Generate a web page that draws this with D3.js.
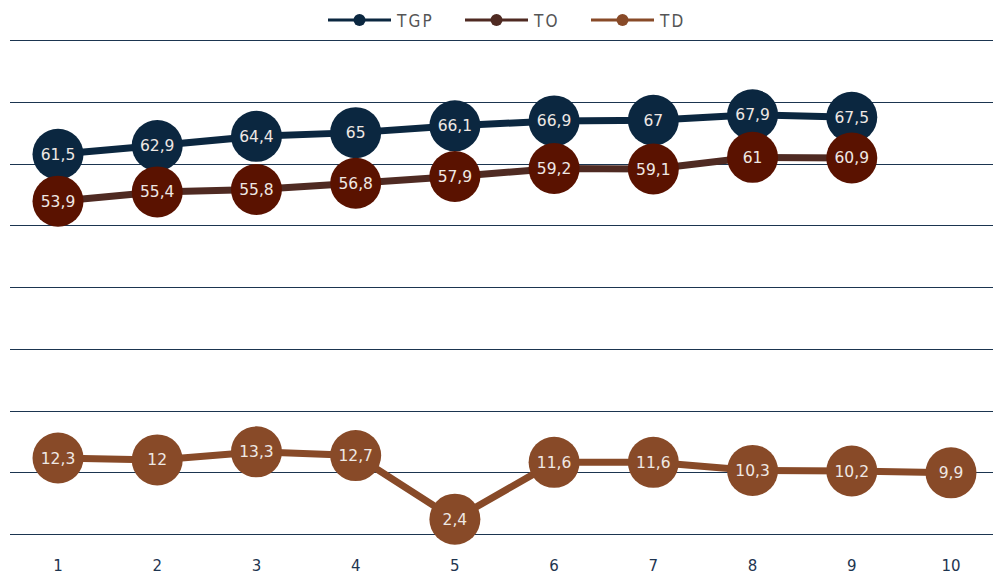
<!DOCTYPE html>
<html><head><meta charset="utf-8">
<script src="https://cdn.jsdelivr.net/npm/d3@7"></script>
<style>body{margin:0;background:#fff}svg{display:block}</style>
</head><body>
<svg id="c" width="994" height="575"></svg>
<script>
const categories = ["1","2","3","4","5","6","7","8","9","10"];
const seriesNames = ["TGP","TO","TD"];
const tgp = [61.5,62.9,64.4,65,66.1,66.9,67,67.9,67.5,null];
const to  = [53.9,55.4,55.8,56.8,57.9,59.2,59.1,61,60.9,null];
const td  = [12.3,12,13.3,12.7,2.4,11.6,11.6,10.3,10.2,9.9];
const yTicks = [0,10,20,30,40,50,60,70,80];

const lineColors = ["#0b2740","#4f2a22","#884a28"];
const dotColors  = ["#0b2740","#5a1200","#884a28"];
const series = [tgp,to,td];

const svg = d3.select("#c");
const x = d3.scaleBand().domain(categories).range([8.4,1000.6]);
const y = d3.scaleLinear().domain([0,80]).range([534,40]);

svg.append("g").selectAll("line").data(yTicks).join("line")
  .attr("x1",10).attr("x2",993)
  .attr("y1",d=>Math.round(y(d))+0.5).attr("y2",d=>Math.round(y(d))+0.5)
  .attr("stroke","#1b3550").attr("stroke-width",1);

svg.append("g").selectAll("text").data(categories).join("text")
  .attr("x",d=>x(d)+x.bandwidth()/2).attr("y",571)
  .attr("text-anchor","middle").attr("font-family","DejaVu Sans")
  .attr("font-size",15).attr("fill","#1e3550").text(d=>d);

const fmt = v => String(v).replace(".",",");
const cx = i => x(categories[i]) + x.bandwidth()/2;

series.forEach((s,k)=>{
  const pts = s.map((v,i)=>({v,i})).filter(d=>d.v!=null);
  const line = d3.line().x(d=>cx(d.i)).y(d=>y(d.v));
  svg.append("path").datum(pts).attr("d",line)
    .attr("fill","none").attr("stroke",lineColors[k]).attr("stroke-width",7);
});
series.forEach((s,k)=>{
  const pts = s.map((v,i)=>({v,i})).filter(d=>d.v!=null);
  const g = svg.append("g");
  g.selectAll("circle").data(pts).join("circle")
    .attr("cx",d=>cx(d.i)).attr("cy",d=>y(d.v)).attr("r",25.5)
    .attr("fill",dotColors[k]);
  g.selectAll("text").data(pts).join("text")
    .attr("x",d=>cx(d.i)).attr("y",d=>y(d.v)+5.5)
    .attr("text-anchor","middle").attr("font-family","DejaVu Sans")
    .attr("font-size",15.5).attr("fill","#efe8e4").text(d=>fmt(d.v));
});

const legX = [328,465,591];
const leg = svg.append("g");
seriesNames.forEach((n,k)=>{
  const g = leg.append("g").attr("transform",`translate(${legX[k]},20)`);
  g.append("line").attr("x1",0).attr("x2",63).attr("y1",0).attr("y2",0)
    .attr("stroke",lineColors[k]).attr("stroke-width",3);
  g.append("circle").attr("cx",31.5).attr("cy",0).attr("r",6).attr("fill",lineColors[k]);
  g.append("text").attr("x",69).attr("y",6.5).attr("font-family","DejaVu Sans Condensed, DejaVu Sans")
    .attr("font-size",17).attr("letter-spacing",2.2).attr("fill","#555").text(n);
});
</script>
</body></html>
